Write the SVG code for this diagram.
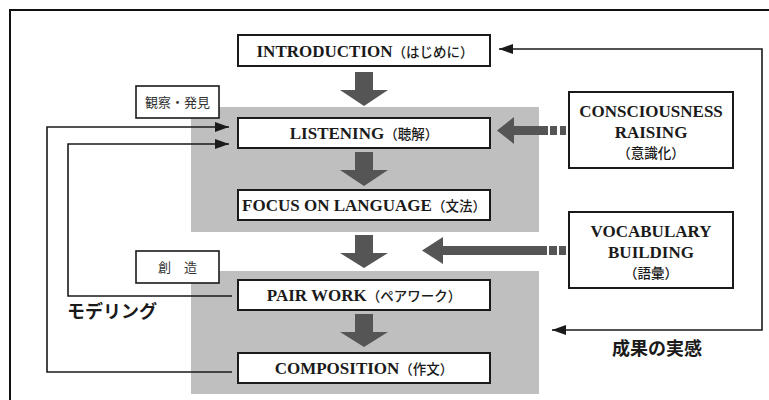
<svg xmlns="http://www.w3.org/2000/svg" width="769" height="400" viewBox="0 0 769 400">
<style>
.frame{fill:none;stroke:#111;stroke-width:2}
.zone{fill:#bfbfbf}
.box{fill:#fff;stroke:#1a1a1a;stroke-width:2}
.lbl{fill:#fff;stroke:#1a1a1a;stroke-width:1.6}
.en{font-family:"Liberation Serif","Times New Roman",serif;font-weight:bold;font-size:17px;fill:#1a1a1a}
.jp{font-family:"Noto Sans CJK JP","Noto Sans",sans-serif;font-weight:500;font-size:13.5px;fill:#1a1a1a}
.tag{font-family:"Noto Sans CJK JP","Noto Sans",sans-serif;font-size:13px;fill:#333}
.big{font-family:"Noto Sans CJK JP","Noto Sans",sans-serif;font-weight:bold;font-size:18px;fill:#1a1a1a}
.blk{fill:#555}
.line{fill:none;stroke:#1a1a1a;stroke-width:1.6}
</style>
<defs>
<marker id="ah" viewBox="0 0 14 10" refX="14" refY="5" markerWidth="14" markerHeight="10" markerUnits="userSpaceOnUse" orient="auto-start-reverse">
<path d="M0,0 L14,5 L0,10 Z" fill="#1a1a1a"/>
</marker>
</defs>
<rect width="769" height="400" fill="#fff"/>
<path class="frame" d="M10,401 V10 H770"/>
<rect class="zone" x="191" y="107" width="348" height="125"/>
<rect class="zone" x="191" y="271" width="348" height="123"/>

<g id="connectors">
<path class="line" d="M232,372 H47 V127 H229" marker-end="url(#ah)"/>
<path class="line" d="M232,296 H68 V144 H229" marker-end="url(#ah)"/>
<path class="line" d="M552,330 H762 V49 H499" marker-start="url(#ah)" marker-end="url(#ah)"/>
<polygon class="blk" points="355,72 373,72 373,90 388,90 364,106 340,90 355,90"/>
<polygon class="blk" points="355,152 373,152 373,170 388,170 364,186 340,170 355,170"/>
<polygon class="blk" points="355,235 373,235 373,253 388,253 364,268 340,253 355,253"/>
<polygon class="blk" points="355,314 373,314 373,332 388,332 364,347 340,332 355,332"/>
<polygon class="blk" points="497,130.5 514,117 514,126 548,126 548,135 514,135 514,144"/>
<rect class="blk" x="550" y="126" width="7" height="9"/>
<rect class="blk" x="560" y="126" width="6" height="9"/>
<polygon class="blk" points="422,250.5 443,237 443,246 547,246 547,255 443,255 443,264"/>
<rect class="blk" x="549" y="246" width="8" height="9"/>
<rect class="blk" x="559" y="246" width="7" height="9"/>
</g>

<g id="intro">
<rect class="box" x="238" y="35" width="252" height="31"/>
<text x="365" y="57" text-anchor="middle"><tspan class="en">INTRODUCTION</tspan><tspan class="jp">（はじめに）</tspan></text>
</g>
<g id="tag-observe">
<rect class="lbl" x="136" y="86" width="83" height="32"/>
<text class="tag" x="177.5" y="107" text-anchor="middle">観察・発見</text>
</g>
<g id="listening">
<rect class="box" x="238" y="118" width="252" height="30"/>
<text x="364" y="139" text-anchor="middle"><tspan class="en">LISTENING</tspan><tspan class="jp">（聴解）</tspan></text>
</g>
<g id="focus">
<rect class="box" x="238" y="190" width="252" height="30"/>
<text x="364" y="211" text-anchor="middle"><tspan class="en">FOCUS ON LANGUAGE</tspan><tspan class="jp">（文法）</tspan></text>
</g>
<g id="tag-create">
<rect class="lbl" x="136" y="251" width="83" height="32"/>
<text class="tag" x="177.5" y="272" text-anchor="middle">創　造</text>
</g>
<g id="pairwork">
<rect class="box" x="238" y="280" width="252" height="30"/>
<text x="364" y="301" text-anchor="middle"><tspan class="en">PAIR WORK</tspan><tspan class="jp">（ペアワーク）</tspan></text>
</g>
<g id="composition">
<rect class="box" x="238" y="353" width="252" height="30"/>
<text x="364" y="374" text-anchor="middle"><tspan class="en">COMPOSITION</tspan><tspan class="jp">（作文）</tspan></text>
</g>
<g id="consciousness">
<rect class="box" x="569" y="92" width="164" height="76"/>
<text class="en" x="651" y="117" text-anchor="middle">CONSCIOUSNESS</text>
<text class="en" x="651" y="138" text-anchor="middle">RAISING</text>
<text class="jp" x="651" y="158" text-anchor="middle">（意識化）</text>
</g>
<g id="vocabulary">
<rect class="box" x="569" y="212" width="164" height="76"/>
<text class="en" x="651" y="237" text-anchor="middle">VOCABULARY</text>
<text class="en" x="651" y="258" text-anchor="middle">BUILDING</text>
<text class="jp" x="651" y="278" text-anchor="middle">（語彙）</text>
</g>
<g id="labels">
<text class="big" x="67" y="318">モデリング</text>
<text class="big" x="612" y="355">成果の実感</text>
</g>
</svg>
